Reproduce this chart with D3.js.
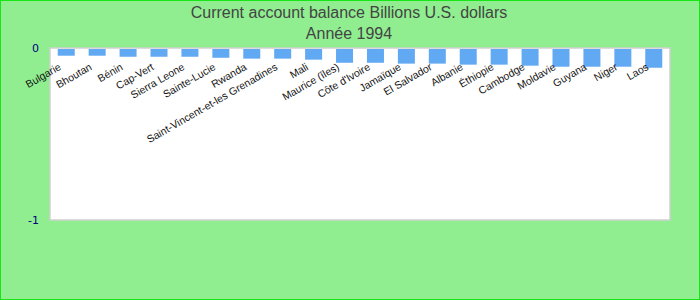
<!DOCTYPE html>
<html>
<head>
<meta charset="utf-8">
<script src="https://cdn.jsdelivr.net/npm/d3@7"></script>
<style>
  body { margin: 0; }
  svg { display: block; }
</style>
</head>
<body>
<script>
// chart data
var countries = ["Bulgarie", "Bhoutan", "Bénin", "Cap-Vert", "Sierra Leone", "Sainte-Lucie",
    "Rwanda", "Saint-Vincent-et-les Grenadines", "Mali", "Maurice (îles)", "Côte d'Ivoire",
    "Jamaïque", "El Salvador", "Albanie", "Éthiopie", "Cambodge", "Moldavie", "Guyana",
    "Niger", "Laos"];
var balance = [-0.039, -0.039, -0.045, -0.045, -0.045, -0.051, -0.056, -0.056, -0.062, -0.080,
    -0.080, -0.085, -0.085, -0.091, -0.091, -0.097, -0.103, -0.103, -0.103, -0.109];
var yTicks = [0, -1];
var titleLines = ["Current account balance Billions U.S. dollars", "Année 1994"];

// set up variables
var canvasWidth = 700,
    canvasHeight = 300,
    plot = {left: 50, right: 670, top: 48, bottom: 220};

var figure = d3.select("body")
    .append("svg")
        .attr("width", canvasWidth)
        .attr("height", canvasHeight);

// background and frame
figure.append("rect")
    .attr("x", 0.5).attr("y", 0.5)
    .attr("width", canvasWidth - 1).attr("height", canvasHeight - 1)
    .attr("fill", "#90ee90")
    .attr("stroke", "#16e516");

figure.append("rect")
    .attr("x", plot.left).attr("y", plot.top)
    .attr("width", plot.right - plot.left).attr("height", plot.bottom - plot.top)
    .attr("fill", "#ffffff")
    .attr("stroke", "#cfcfcf")
    .attr("stroke-width", 1.5);

// scales
var x = d3.scaleBand()
    .domain(countries)
    .range([plot.left, plot.right])
    .paddingInner(0.45)
    .paddingOuter(0.25);

var y = d3.scaleLinear()
    .domain([-1, 0])
    .range([plot.bottom, plot.top]);

// bars
figure.append("g")
    .attr("class", "bars")
    .selectAll("rect")
    .data(balance)
    .enter()
    .append("rect")
    .attr("x", function(d, i) { return x(countries[i]); })
    .attr("y", y(0) + 1)
    .attr("width", x.bandwidth())
    .attr("height", function(d) { return y(d) - y(0); })
    .attr("fill", "#62a9f3");

// y axis labels only (plain hyphen for negatives)
var yAxis = figure.append("g")
    .attr("transform", "translate(" + plot.left + ",0)")
    .call(d3.axisLeft(y).tickValues(yTicks).tickSize(0).tickPadding(11)
        .tickFormat(function(d) { return String(d); }));
yAxis.select(".domain").remove();
yAxis.selectAll("text")
    .attr("fill", "#000080")
    .style("font-family", "DejaVu Sans, sans-serif")
    .style("font-size", "11px");

// category labels, slanted
figure.append("g")
    .attr("class", "x-labels")
    .selectAll("text")
    .data(countries)
    .enter()
    .append("text")
    .attr("text-anchor", "end")
    .attr("transform", function(d) {
        return "translate(" + (x(d) + x.bandwidth() / 2 - 4.5) + "," + 69 + ") rotate(-30)"; })
    .style("font-family", "Liberation Sans, Arial, sans-serif")
    .style("font-size", "10.5px")
    .attr("fill", "#111")
    .text(function(d) { return d; });

// title
figure.append("g")
    .selectAll("text")
    .data(titleLines)
    .enter()
    .append("text")
    .attr("text-anchor", "middle")
    .attr("x", 349)
    .attr("y", function(d, i) { return 18 + i * 20.5; })
    .style("font-family", "Liberation Sans, Arial, sans-serif")
    .style("font-size", "16px")
    .attr("fill", "#444")
    .text(function(d) { return d; });
</script>
</body>
</html>
